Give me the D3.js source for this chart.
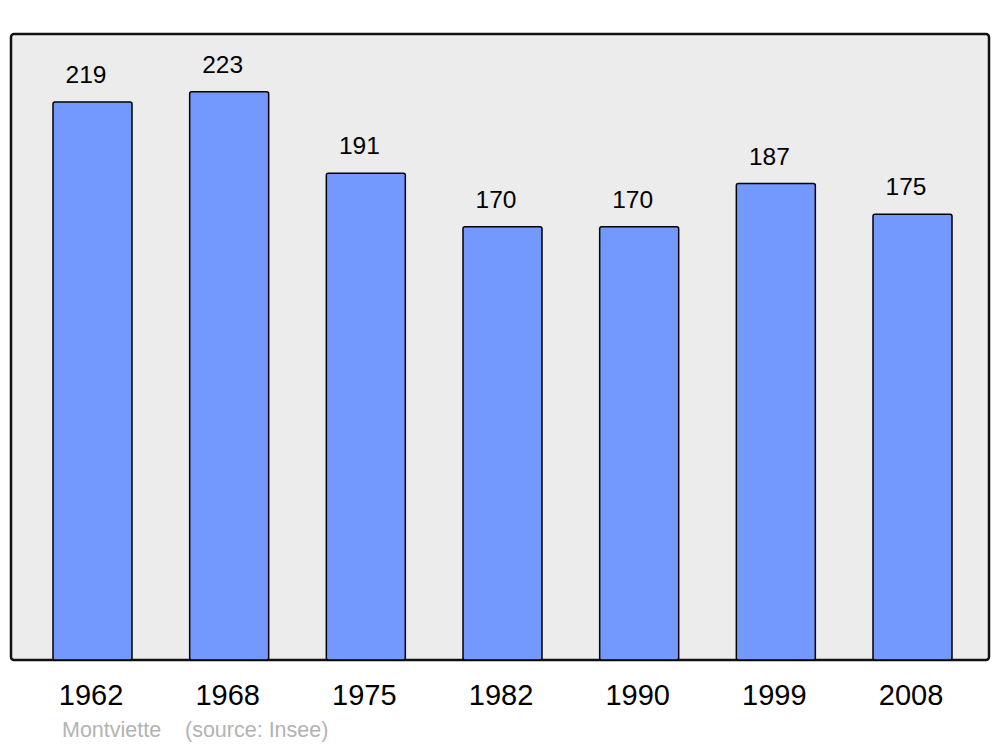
<!DOCTYPE html>
<html><head><meta charset="utf-8">
<script src="https://cdn.jsdelivr.net/npm/d3@7"></script>
<style>body{margin:0;background:#fff}svg{display:block}</style>
</head><body>
<script>
const years = ["1962","1968","1975","1982","1990","1999","2008"];
const population = [219,223,191,170,170,187,175];
const commune = "Montviette";
const source = "(source: Insee)";

const W = 1000, H = 747;
const svg = d3.select("body").append("svg").attr("width", W).attr("height", H);
const font = "Liberation Sans, Arial, sans-serif";

const panel = {x0: 11, x1: 989, y0: 34, y1: 660};
svg.append("rect").attr("x", panel.x0).attr("y", panel.y0)
  .attr("width", panel.x1 - panel.x0).attr("height", panel.y1 - panel.y0)
  .attr("rx", 3).attr("fill", "#ececec").attr("stroke", "#111").attr("stroke-width", 2.5);

const x = d3.scaleBand().domain(years).range([53, 952]).paddingInner(0.422).paddingOuter(0);
const y = d3.scaleLinear().domain([0, 245.7]).range([panel.y1, panel.y0]);

const g = svg.append("g");
g.selectAll("rect.bar").data(years).join("rect").attr("class","bar")
  .attr("x", d => x(d)).attr("width", x.bandwidth())
  .attr("y", (d,i) => y(population[i])).attr("height", (d,i) => y(0) - y(population[i]))
  .attr("rx", 2).attr("fill", "#7399ff").attr("stroke", "#000").attr("stroke-width", 1.5);

g.selectAll("text.val").data(years).join("text").attr("class","val")
  .attr("x", d => x(d) + x.bandwidth()/2 - 6.5)
  .attr("y", (d,i) => y(population[i]) - 19)
  .attr("text-anchor","middle").attr("font-family", font).attr("font-size", 24.5)
  .attr("fill","#000").text((d,i) => population[i]);

const xAxis = d3.axisBottom(x).tickSize(0).tickPadding(0);
const ax = svg.append("g").attr("transform", `translate(0,${panel.y1})`).call(xAxis);
ax.select(".domain").remove();
ax.selectAll("text").attr("font-family", font).attr("font-size", 29).attr("fill","#000")
  .attr("dy", null).attr("y", 45).attr("dx", -1.5);

svg.append("text").attr("x", 62).attr("y", 737).attr("font-family", font).attr("font-size", 21.5)
  .attr("fill", "#b3b3b3").text(commune);
svg.append("text").attr("x", 185).attr("y", 737).attr("font-family", font).attr("font-size", 21.5)
  .attr("fill", "#b3b3b3").text(source);
</script>
</body></html>
